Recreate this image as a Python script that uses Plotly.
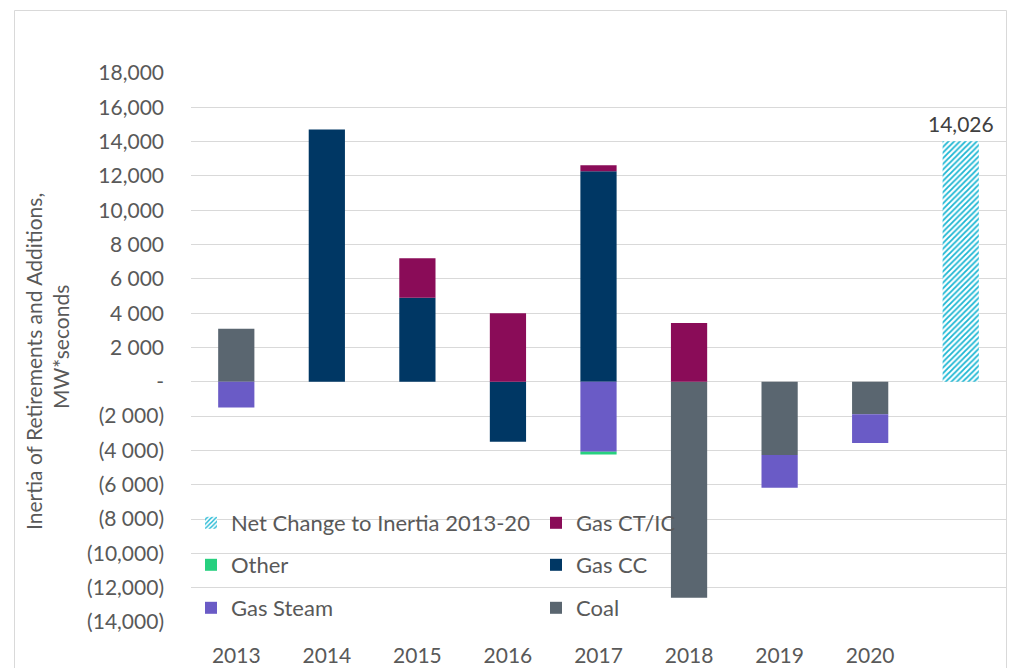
import plotly.graph_objects as go

# ---------------- data ----------------
categories = ["2013", "2014", "2015", "2016", "2017", "2018", "2019", "2020", "Net"]
tick_labels = ["2013", "2014", "2015", "2016", "2017", "2018", "2019", "2020", ""]

coal      = [3100, None, None, None, None, -12590, -4270, -1890, None]
gas_cc    = [None, 14700, 4900, -3500, 12280, None, None, None, None]
gas_ct_ic = [None, None, 2300, 4000, 350, 3430, None, None, None]
gas_steam = [-1500, None, None, None, -4070, None, -1900, -1680, None]
other     = [None, None, None, None, -160, None, None, None, None]
net_change = [None, None, None, None, None, None, None, None, 14026]
net_label = "14,026"

y_title_lines = ["Inertia of Retirements and Additions,", "MW*seconds"]

y_tickvals = [18000, 16000, 14000, 12000, 10000, 8000, 6000, 4000, 2000, 0,
              -2000, -4000, -6000, -8000, -10000, -12000, -14000]
y_ticktext = ["18,000", "16,000", "14,000", "12,000", "10,000", "8 000", "6 000",
              "4 000", "2 000", "-", "(2 000)", "(4 000)", "(6 000)", "(8 000)",
              "(10,000)", "(12,000)", "(14,000)"]

# ---------------- style ----------------
FONT = "Lato"
TXT = "#595959"
colors = {
    "Coal": "#5A6670",
    "Gas CC": "#003764",
    "Gas CT/IC": "#8A0C58",
    "Gas Steam": "#6A5BC6",
    "Other": "#27D07F",
}

W, H = 1011, 668
L, R, T, B = 191, 5, 73, 46
pw, ph = W - L - R, H - T - B

def px_y(py):
    return (H - B - py) / ph

def px_x(px):
    return (px - L) / pw

fig = go.Figure()

series = [
    ("Coal", coal, "legend3", 2),
    ("Gas CC", gas_cc, "legend2", 2),
    ("Gas CT/IC", gas_ct_ic, "legend", 2),
    ("Gas Steam", gas_steam, "legend3", 1),
    ("Other", other, "legend2", 1),
]
for name, vals, lg, rank in series:
    fig.add_trace(go.Bar(
        x=categories, y=vals, name=name,
        marker=dict(color=colors[name], line=dict(width=0)),
        legend=lg, legendrank=rank,
    ))

fig.add_trace(go.Bar(
    x=categories, y=net_change, name="Net Change to Inertia 2013-20",
    marker=dict(color="white", line=dict(width=0),
                pattern=dict(shape="/", fgcolor="#1BB6D3", bgcolor="white",
                             size=4, solidity=0.45, fillmode="replace")),
    legend="legend", legendrank=1,
))

fig.add_annotation(x=categories[-1], y=net_change[-1], text=net_label,
                   showarrow=False, yanchor="bottom", yshift=3,
                   font=dict(family=FONT, size=21, color="#404040"))

# y-axis title (two lines, rotated)
for txt, xp, yp in [(y_title_lines[0], 33, 362), (y_title_lines[1], 60, 347)]:
    fig.add_annotation(xref="paper", yref="paper", x=px_x(xp), y=px_y(yp),
                       text=txt, textangle=-90, showarrow=False,
                       xanchor="center", yanchor="middle",
                       font=dict(family=FONT, size=21, color=TXT))

# chart border
fig.add_shape(type="rect", xref="paper", yref="paper",
              x0=px_x(14.5), x1=px_x(1006.5), y0=px_y(700), y1=px_y(10.5),
              line=dict(color="#D9D9D9", width=1), fillcolor="rgba(0,0,0,0)", layer="below")

leg_common = dict(orientation="h", bgcolor="rgba(0,0,0,0)", borderwidth=0,
                  font=dict(family=FONT, size=22, color=TXT),
                  entrywidth=300, entrywidthmode="pixels",
                  xanchor="left", yanchor="middle", traceorder="normal",
                  itemclick=False, itemdoubleclick=False)

fig.update_layout(
    width=W, height=H,
    margin=dict(l=L, r=R, t=T, b=B, autoexpand=False),
    paper_bgcolor="white", plot_bgcolor="white",
    barmode="relative", bargap=0.6,
    font=dict(family=FONT, size=21, color=TXT),
    legend=dict(x=0, y=px_y(523), **leg_common),
    legend2=dict(x=0, y=px_y(565), **leg_common),
    legend3=dict(x=0, y=px_y(608), **leg_common),
    xaxis=dict(type="category", categoryorder="array", categoryarray=categories,
               tickmode="array", tickvals=categories, ticktext=tick_labels,
               showgrid=False, zeroline=False, showline=False, ticks="",
               ticklabelstandoff=19, automargin=False,
               tickfont=dict(family=FONT, size=21, color=TXT)),
    yaxis=dict(range=[-14000, 18000], tickmode="array",
               tickvals=y_tickvals, ticktext=y_ticktext,
               showgrid=True, gridcolor="#D9D9D9", gridwidth=1,
               zeroline=False, showline=False, ticks="",
               ticklabelstandoff=26, automargin=False,
               tickfont=dict(family=FONT, size=21, color=TXT)),
)

fig.write_html("out.html")
